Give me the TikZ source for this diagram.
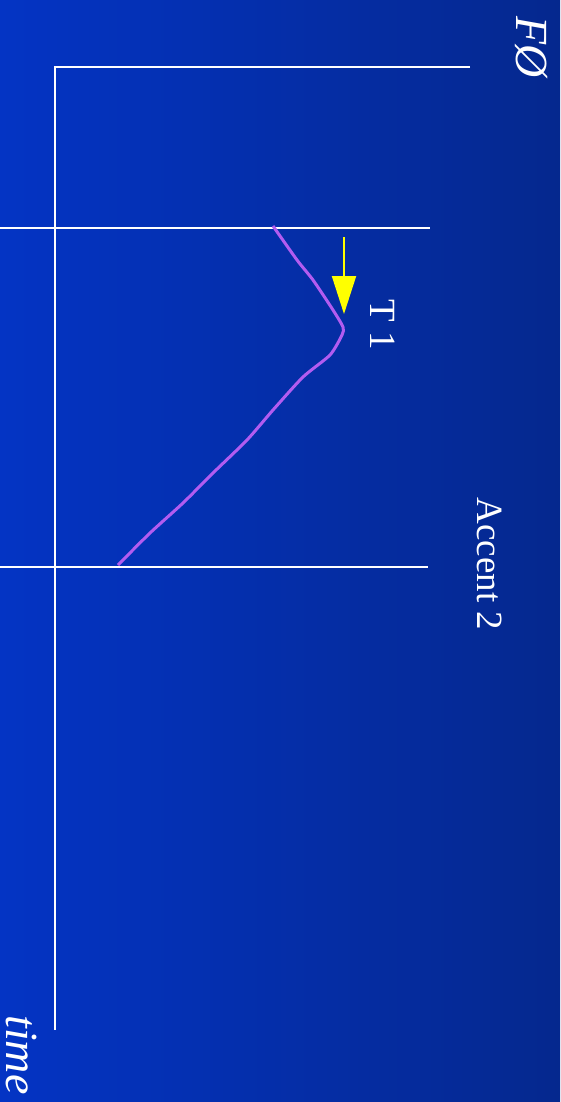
\documentclass[tikz,border=0pt]{standalone}
\usepackage{fontspec}
\setmainfont{Liberation Serif}
\usetikzlibrary{arrows.meta}
\definecolor{bgleft}{RGB}{4,52,196}
\definecolor{bgright}{RGB}{5,40,142}
\definecolor{contour}{RGB}{178,92,240}
\definecolor{marker}{RGB}{255,255,0}
\tikzset{
  axis/.style={draw=white, line width=2.2pt},
  contour/.style={draw=contour, line width=3pt, line join=round},
  label/.style={text=white, rotate=-90, inner sep=0pt, font=\fontsize{37}{40}\selectfont},
  italic label/.style={label, font=\fontsize{46}{50}\selectfont\itshape},
}
\begin{document}
\begin{tikzpicture}[x=1pt, y=-1pt]

        \useasboundingbox (0,0) rectangle (560,1102);
        \shade[left color=bgleft, right color=bgright] (0,0) rectangle (560,1102);

        % axes
        \coordinate (o) at (55,67);
        \coordinate (xend) at (470,67);
        \coordinate (yend) at (55,1030);
        \draw[axis] (xend) -- (o) -- (yend);

        % accent boundaries
        \coordinate (b1l) at (0,228);
        \coordinate (b1r) at (430,228);
        \coordinate (b2l) at (0,567);
        \coordinate (b2r) at (428,567);
        \draw[axis] (b1l) -- (b1r);
        \draw[axis] (b2l) -- (b2r);

        % labels
        \node[italic label] (f0) at (531,47) {FØ};
        \node[italic label] (time) at (22,1055) {time};
        \node[label] (t1) at (383,325) {T 1};
        \node[label] (acc) at (490,564) {Accent 2};

        % F0 contour
        \coordinate (c0) at (273,226);
        \coordinate (c1) at (118,565);
        \draw[contour] plot[smooth, tension=0.4] coordinates {(c0) (297,260) (313,280) (333,310) (343,327)
            (342,335) (330,355) (303,377) (273,410) (247,440) (213,473) (183,503) (150,533) (c1)};

        % T1 arrow
        \coordinate (a0) at (344,237);
        \coordinate (a1) at (344,314);
        \draw[marker, line width=2pt, -{Triangle[width=24pt,length=38pt]}] (a0) -- (a1);

\end{tikzpicture}
\end{document}
